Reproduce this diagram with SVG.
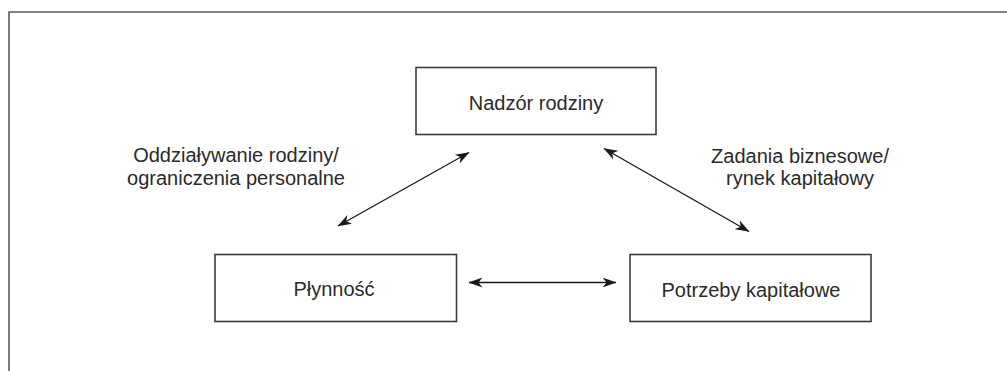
<svg xmlns="http://www.w3.org/2000/svg" width="1007" height="371" viewBox="0 0 1007 371">
  <style>
    .frame { fill: none; stroke: #5a5a5a; stroke-width: 1.6; }
    .box { fill: #ffffff; stroke: #3c3c3c; stroke-width: 1.6; }
    .label { font-family: "Liberation Sans", Arial, sans-serif; font-size: 20px; fill: #2a2a2a; text-anchor: middle; }
    .link { fill: none; stroke: #1a1a1a; stroke-width: 1.3; marker-start: url(#head); marker-end: url(#head); }
  </style>
  <defs>
    <marker id="head" viewBox="0 0 14 10" refX="13.5" refY="5" markerWidth="14" markerHeight="10" markerUnits="userSpaceOnUse" orient="auto-start-reverse">
      <path d="M0,0 L14,5 L0,10 L4,5 Z" fill="#1a1a1a"/>
    </marker>
  </defs>

  <rect width="1007" height="371" fill="#ffffff"/>

  <!-- outer frame, open at right and bottom -->
  <path class="frame" d="M9,371 V12 H1007"/>

  <g id="node-nadzor">
    <rect class="box" x="416" y="67.5" width="240" height="67"/>
    <text class="label" x="536" y="110">Nadzór rodziny</text>
  </g>

  <g id="node-plynnosc">
    <rect class="box" x="215" y="254.5" width="241.5" height="67"/>
    <text class="label" x="334" y="296">Płynność</text>
  </g>

  <g id="node-potrzeby">
    <rect class="box" x="630" y="254.5" width="241" height="67"/>
    <text class="label" x="751" y="296.5">Potrzeby kapitałowe</text>
  </g>

  <g id="labels">
    <text class="label" x="236" y="162">Oddziaływanie rodziny/</text>
    <text class="label" x="236" y="185">ograniczenia personalne</text>
    <text class="label" x="800" y="163">Zadania biznesowe/</text>
    <text class="label" x="800" y="185">rynek kapitałowy</text>
  </g>

  <g id="connectors">
    <line class="link" x1="338" y1="226" x2="469" y2="152.5"/>
    <line class="link" x1="604" y1="148.5" x2="749" y2="231.5"/>
    <line class="link" x1="469" y1="282.5" x2="616" y2="282.5"/>
  </g>
</svg>
